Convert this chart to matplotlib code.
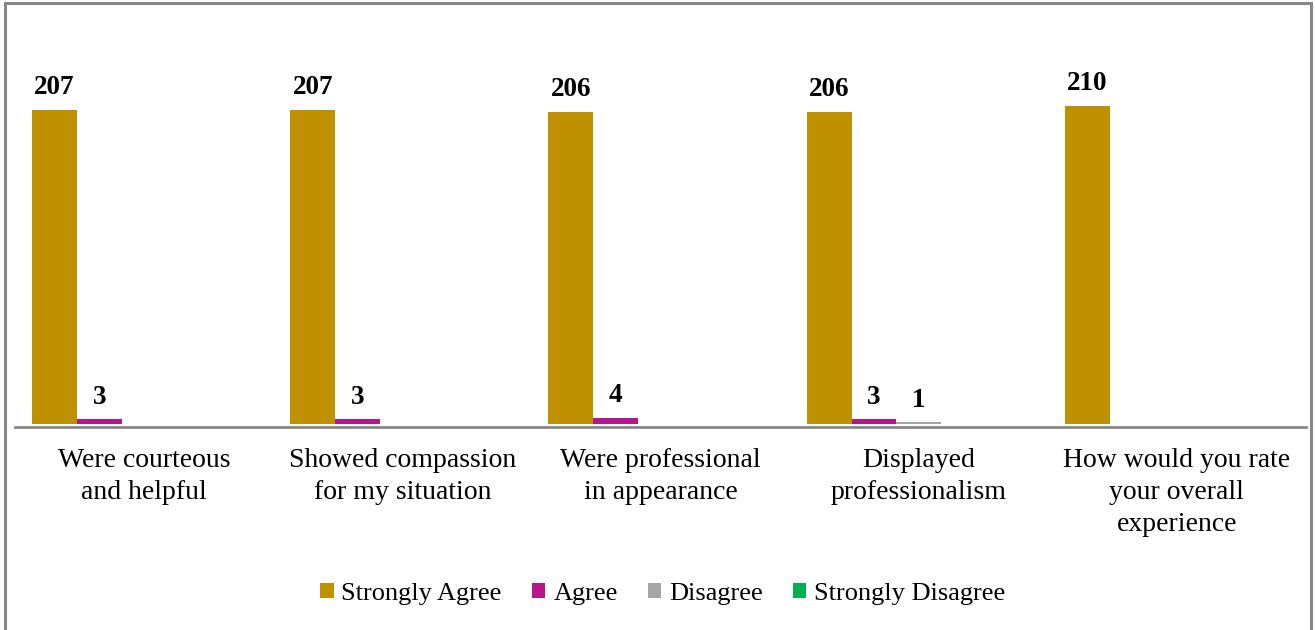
import matplotlib
matplotlib.use("Agg")
import matplotlib.pyplot as plt
from matplotlib.patches import Patch, Rectangle
import numpy as np

plt.rcParams['font.family'] = ['Liberation Serif', 'DejaVu Serif']

# --- data ---
categories = [
    "Were courteous\nand helpful",
    "Showed compassion\nfor my situation",
    "Were professional\nin appearance",
    "Displayed\nprofessionalism",
    "How would you rate\nyour overall\nexperience",
]
series_names = ["Strongly Agree", "Agree", "Disagree", "Strongly Disagree"]
strongly_agree = [207, 207, 206, 206, 210]
agree = [3, 3, 4, 3, 0]
disagree = [0, 0, 0, 1, 0]
strongly_disagree = [0, 0, 0, 0, 0]
series_colors = ["#BF9000", "#B5168C", "#A6A6A6", "#00B050"]

W, H = 1315, 630
fig = plt.figure(figsize=(W / 100, H / 100), dpi=100)

# outer chart frame (grey border)
fig.patches.append(Rectangle((5 / W, -0.02), (1311 - 5) / W, (H - 3) / H + 0.02,
                             transform=fig.transFigure, fill=False,
                             edgecolor="#878787", linewidth=2.2))

ax = fig.add_axes([15 / W, (H - 424) / H, 1291 / W, (424 - 45) / H])

x = np.arange(len(categories))
bar_w = 0.174
start = -0.434
all_series = [strongly_agree, agree, disagree, strongly_disagree]

for j, (vals, name, col) in enumerate(zip(all_series, series_names, series_colors)):
    xs = x + start + j * bar_w
    bars = ax.bar(xs, vals, width=bar_w, align='edge', color=col, label=name, zorder=3)
    for b, v in zip(bars, vals):
        if v == 0:
            continue
        ax.annotate(str(v), (b.get_x() + b.get_width() / 2, v),
                    xytext=(0, 7), textcoords='offset points',
                    ha='center', va='bottom', fontsize=19.5, fontweight='bold')

ax.set_xlim(-0.5, len(categories) - 0.5)
ax.set_ylim(0, 250)
ax.set_xticks([])
ax.set_yticks([])
# category labels drawn as text so the line spacing sticks
for xi, cat in zip(x, categories):
    ax.annotate(cat, (xi, 0), xycoords=('data', 'axes fraction'),
                xytext=(0, -17), textcoords='offset points',
                ha='center', va='top', fontsize=20, linespacing=1.38)
for s in ['top', 'left', 'right']:
    ax.spines[s].set_visible(False)
ax.spines['bottom'].set_color("#878787")
ax.spines['bottom'].set_linewidth(2.0)
ax.spines['bottom'].set_position(('outward', 2))

handles = [Patch(facecolor=c, edgecolor='none') for c in series_colors]
fig.legend(handles, series_names, loc='center', bbox_to_anchor=(663 / W, (H - 594) / H),
           ncol=4, frameon=False, fontsize=19, handlelength=0.5, handleheight=0.5,
           handletextpad=0.3, columnspacing=1.15)

fig.savefig("out.png", dpi=100)
